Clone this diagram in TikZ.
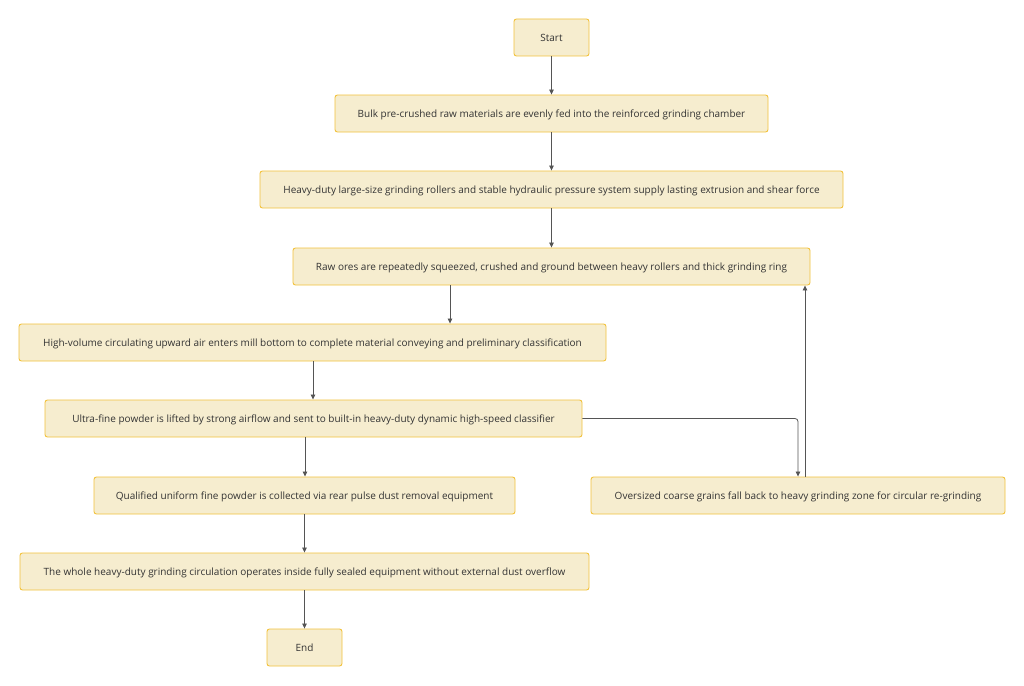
\documentclass[tikz,border=0pt]{standalone}
\usepackage{fontspec}
\setmainfont{Open Sans}
\usetikzlibrary{arrows.meta}
\definecolor{boxfill}{HTML}{F6EDCF}
\definecolor{boxdraw}{HTML}{F2C23C}
\definecolor{txt}{HTML}{333333}
\definecolor{edge}{HTML}{555555}
\tikzset{
  box/.style={draw=boxdraw, fill=boxfill, line width=0.9pt, rounded corners=2.5pt,
    minimum height=37pt, inner sep=0pt, text=txt, font=\fontsize{10}{12}\selectfont,
    text height=8.3pt, text depth=1.2pt, anchor=center},
  conn/.style={draw=edge, line width=0.8pt, -{Triangle[length=5pt,width=4.5pt]}}
}
\begin{document}
\begin{tikzpicture}[x=1pt,y=-1pt]
\useasboundingbox (0,0) rectangle (1024,685);
\node[box, minimum width=75pt]  (start) at (551.5,37.5) {Start};
\node[box, minimum width=433pt] (b2) at (551.5,113.5) {Bulk pre-crushed raw materials are evenly fed into the reinforced grinding chamber};
\node[box, minimum width=583pt] (b3) at (551.5,189.5) {Heavy-duty large-size grinding rollers and stable hydraulic pressure system supply lasting extrusion and shear force};
\node[box, minimum width=517pt] (b4) at (551.5,266.5) {Raw ores are repeatedly squeezed, crushed and ground between heavy rollers and thick grinding ring};
\node[box, minimum width=587pt] (b5) at (312.5,342.5) {High-volume circulating upward air enters mill bottom to complete material conveying and preliminary classification};
\node[box, minimum width=537pt] (b6) at (313.5,418.5) {Ultra-fine powder is lifted by strong airflow and sent to built-in heavy-duty dynamic high-speed classifier};
\node[box, minimum width=421pt] (b7) at (304.5,495.5) {Qualified uniform fine powder is collected via rear pulse dust removal equipment};
\node[box, minimum width=414pt] (b8) at (798,495.5) {Oversized coarse grains fall back to heavy grinding zone for circular re-grinding};
\node[box, minimum width=569pt] (b9) at (304.5,571.5) {The whole heavy-duty grinding circulation operates inside fully sealed equipment without external dust overflow};
\node[box, minimum width=75pt]  (end) at (304.5,647.5) {End};

\draw[conn] (start) -- (b2);
\draw[conn] (b2) -- (b3);
\draw[conn] (b3) -- (b4);
\draw[conn] (b4.south -| 450,0) -- (b5.north -| 450,0);
\draw[conn] (b5.south -| 313,0) -- (b6.north -| 313,0);
\draw[conn] (b6.south -| 305,0) -- (b7.north -| 305,0);
\draw[conn, rounded corners=3pt] (b6.east) -- (798,418.5) -- (b8.north -| 798,0);
\draw[conn] (b8.north -| 805,0) -- (b4.south -| 805,0);
\draw[conn] (b7) -- (b9);
\draw[conn] (b9) -- (end);
\end{tikzpicture}
\end{document}
